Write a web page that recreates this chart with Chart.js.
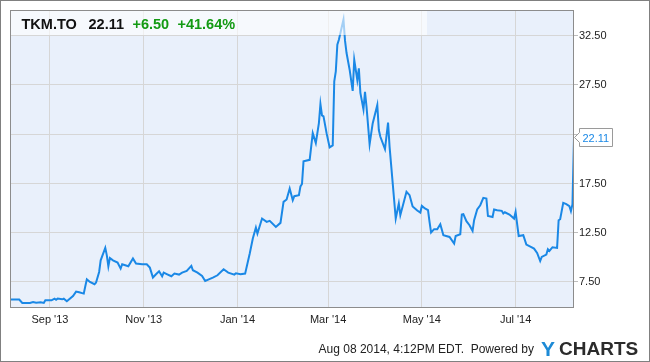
<!DOCTYPE html>
<html>
<head>
<meta charset="utf-8">
<script src="https://cdn.jsdelivr.net/npm/chart.js@4"></script>
<style>
  html, body { margin: 0; padding: 0; background: #ffffff; }
  canvas { display: block; }
</style>
</head>
<body>
<canvas id="c" width="650" height="362"></canvas>
<script>
// ---- data ----
const dates = [
  '2013-08-06','2013-08-12','2013-08-14','2013-08-19','2013-08-21','2013-08-23','2013-08-26','2013-08-28','2013-08-29',
  '2013-09-02','2013-09-04','2013-09-05','2013-09-06','2013-09-09','2013-09-10','2013-09-12','2013-09-16','2013-09-18',
  '2013-09-20','2013-09-23','2013-09-24','2013-09-25','2013-09-27','2013-09-30',
  '2013-10-01','2013-10-03','2013-10-04','2013-10-07','2013-10-08','2013-10-09','2013-10-10','2013-10-12','2013-10-15',
  '2013-10-17','2013-10-18','2013-10-20','2013-10-22','2013-10-25','2013-10-27','2013-10-31',
  '2013-11-03','2013-11-05','2013-11-07','2013-11-09','2013-11-11','2013-11-13','2013-11-14','2013-11-16','2013-11-19',
  '2013-11-21','2013-11-24','2013-11-26','2013-11-29',
  '2013-12-02','2013-12-03','2013-12-06','2013-12-09','2013-12-11','2013-12-13','2013-12-16','2013-12-19','2013-12-23',
  '2013-12-26','2013-12-30','2013-12-31',
  '2014-01-03','2014-01-06','2014-01-09','2014-01-11','2014-01-13','2014-01-14','2014-01-17','2014-01-20','2014-01-22',
  '2014-01-26','2014-01-29','2014-01-31',
  '2014-02-02','2014-02-04','2014-02-06','2014-02-07','2014-02-10','2014-02-11','2014-02-12','2014-02-13','2014-02-17',
  '2014-02-19','2014-02-21','2014-02-23','2014-02-24','2014-02-25','2014-02-26','2014-02-28',
  '2014-03-02','2014-03-04','2014-03-05','2014-03-06','2014-03-07','2014-03-08','2014-03-09','2014-03-11','2014-03-12',
  '2014-03-13','2014-03-15','2014-03-17','2014-03-18','2014-03-20','2014-03-21','2014-03-22','2014-03-24','2014-03-25',
  '2014-03-26','2014-03-28','2014-03-30',
  '2014-04-02','2014-04-03','2014-04-04','2014-04-07','2014-04-09','2014-04-10','2014-04-14','2014-04-16','2014-04-17',
  '2014-04-21','2014-04-23','2014-04-25','2014-04-28','2014-04-30',
  '2014-05-01','2014-05-03','2014-05-05','2014-05-06','2014-05-07','2014-05-09','2014-05-11','2014-05-13','2014-05-15',
  '2014-05-19','2014-05-22','2014-05-23','2014-05-26','2014-05-27','2014-05-28','2014-05-30',
  '2014-06-01','2014-06-03','2014-06-04','2014-06-06','2014-06-08','2014-06-10','2014-06-12','2014-06-13','2014-06-16',
  '2014-06-17','2014-06-19','2014-06-22','2014-06-23','2014-06-24','2014-06-27','2014-06-30',
  '2014-07-01','2014-07-03','2014-07-06','2014-07-08','2014-07-10','2014-07-13','2014-07-15','2014-07-17','2014-07-18',
  '2014-07-21','2014-07-22','2014-07-23','2014-07-25','2014-07-28','2014-07-29','2014-07-30',
  '2014-08-01','2014-08-03','2014-08-05','2014-08-06','2014-08-07','2014-08-08'
];
const prices = [
  5.71,5.71,5.37,5.37,5.47,5.40,5.44,5.37,5.64,
  5.64,5.81,5.70,5.81,5.74,5.81,5.54,6.08,6.52,
  6.45,6.32,7.06,7.77,7.50,7.27,
  7.44,8.52,9.70,10.96,10.20,9.10,9.94,9.70,9.47,
  8.86,9.30,9.20,9.10,9.88,9.37,9.30,
  9.30,8.96,7.95,8.28,8.59,8.08,8.45,8.30,8.08,
  8.35,8.25,8.45,8.62,
  9.13,8.69,8.45,8.11,7.60,7.74,7.95,8.18,8.79,
  8.45,8.25,8.38,
  8.28,8.35,10.39,11.91,13.03,12.42,13.94,13.60,13.70,
  13.09,13.50,15.63,
  15.87,16.99,15.80,16.21,16.31,17.20,17.45,19.74,19.90,
  22.61,21.60,23.63,25.56,24.41,24.31,22.61,
  21.16,21.36,27.87,28.88,31.59,32.09,32.77,34.15,32.00,
  30.74,29.05,26.90,30.05,28.00,29.19,26.70,25.02,26.81,
  25.28,21.49,23.60,
  25.46,22.92,22.24,21.00,23.68,21.22,13.94,15.47,14.28,
  16.65,16.31,15.17,14.75,14.55,
  15.22,14.96,14.79,13.60,12.52,12.86,12.86,13.36,12.25,
  12.07,11.40,12.17,12.35,14.35,14.38,13.67,
  13.26,12.68,13.77,14.86,15.29,16.04,15.97,14.20,14.10,
  14.86,14.79,14.72,14.45,14.58,14.35,13.94,
  14.61,12.17,12.25,11.30,11.13,10.89,10.45,9.63,10.04,
  10.28,10.82,10.65,11.03,10.96,13.77,13.87,
  15.53,15.40,15.19,14.69,15.40,22.11
];
const xRange = ['2013-08-06', '2014-08-08'];
const yRange = [4.96, 35.11];
const xTickDates = ['2013-09-01','2013-11-01','2014-01-01','2014-03-01','2014-05-01','2014-07-01'];
const xTickLabels = ["Sep '13","Nov '13","Jan '14","Mar '14","May '14","Jul '14"];
const yTicks = [7.5, 12.5, 17.5, 22.5, 27.5, 32.5];
const ticker = 'TKM.TO';
const lastPrice = '22.11';
const change = '+6.50';
const changePct = '+41.64%';
const footer = 'Aug 08 2014, 4:12PM EDT.  Powered by';

// ---- helpers ----
function dayNum(s) {
  const p = s.split('-').map(Number);
  return Date.UTC(p[0], p[1] - 1, p[2]) / 86400000;
}
const points = dates.map((d, i) => ({ x: dayNum(d), y: prices[i] }));
const xTickVals = xTickDates.map(dayNum);

const FONT = '"Liberation Sans", Arial, sans-serif';
const LINE = '#1a88e6';

const decor = {
  id: 'decor',
  beforeDraw(chart) {
    const { ctx, chartArea: a } = chart;
    ctx.save();
    ctx.fillStyle = '#ffffff';
    ctx.fillRect(0, 0, chart.width, chart.height);
    ctx.fillStyle = '#e9f0fb';
    ctx.fillRect(a.left, a.top, a.right - a.left, a.bottom - a.top);
    ctx.restore();
  },
  afterDatasetsDraw(chart) {
    const { ctx, chartArea: a } = chart;
    ctx.save();
    // translucent header band
    ctx.fillStyle = 'rgba(255,255,255,0.6)';
    ctx.fillRect(a.left, a.top, 417, 25);
    // header text
    ctx.font = 'bold 14.5px ' + FONT;
    ctx.textBaseline = 'alphabetic';
    ctx.textAlign = 'left';
    ctx.fillStyle = '#111111';
    ctx.fillText(ticker, 21.5, 29);
    ctx.fillText(lastPrice, 88.5, 29);
    ctx.fillStyle = '#139a13';
    ctx.fillText(change, 132.5, 29);
    ctx.fillText(changePct, 177.5, 29);
    ctx.restore();
  },
  afterDraw(chart) {
    const { ctx, chartArea: a } = chart;
    const xs = chart.scales.x, ys = chart.scales.y;
    ctx.save();
    // plot border
    ctx.strokeStyle = '#8c8c8c';
    ctx.lineWidth = 1;
    ctx.strokeRect(a.left + 0.5, a.top + 0.5, a.right - a.left - 1, a.bottom - a.top);
    // last value tag
    const last = points[points.length - 1];
    const ty = Math.round(ys.getPixelForValue(last.y)) - 0.5;
    const tx = Math.round(xs.getPixelForValue(last.x)) + 0.5;
    const bx = tx + 5, bw = 33, bh = 18;
    ctx.beginPath();
    ctx.moveTo(tx, ty);
    ctx.lineTo(bx, ty - 5);
    ctx.lineTo(bx, ty - bh / 2);
    ctx.lineTo(bx + bw, ty - bh / 2);
    ctx.lineTo(bx + bw, ty + bh / 2);
    ctx.lineTo(bx, ty + bh / 2);
    ctx.lineTo(bx, ty + 5);
    ctx.closePath();
    ctx.fillStyle = '#ffffff';
    ctx.fill();
    ctx.strokeStyle = '#9a9a9a';
    ctx.stroke();
    ctx.fillStyle = LINE;
    ctx.font = '11px ' + FONT;
    ctx.textBaseline = 'middle';
    ctx.textAlign = 'left';
    ctx.fillText(lastPrice, bx + 3, ty + 1);
    // footer
    ctx.fillStyle = '#222222';
    ctx.font = '12px ' + FONT;
    ctx.textAlign = 'right';
    ctx.textBaseline = 'alphabetic';
    ctx.fillText(footer, 534, 353);
    ctx.textAlign = 'left';
    ctx.font = 'bold 21px ' + FONT;
    ctx.fillStyle = '#1d8ad6';
    ctx.fillText('Y', 541, 356);
    ctx.font = 'bold 19px ' + FONT;
    ctx.fillStyle = '#2b2b2b';
    ctx.fillText('CHARTS', 559, 355);
    // outer border
    ctx.strokeStyle = '#808080';
    ctx.lineWidth = 1;
    ctx.strokeRect(0.5, 0.5, chart.width - 1, chart.height - 1);
    ctx.restore();
  }
};

new Chart(document.getElementById('c'), {
  type: 'line',
  data: {
    datasets: [{
      data: points,
      borderColor: LINE,
      borderWidth: 2,
      pointRadius: 0,
      tension: 0,
      fill: false
    }]
  },
  options: {
    responsive: false,
    animation: false,
    devicePixelRatio: 1,
    layout: { padding: { left: 10, top: 10, right: 0, bottom: 0 } },
    plugins: { legend: { display: false }, tooltip: { enabled: false } },
    scales: {
      x: {
        type: 'linear',
        min: dayNum(xRange[0]),
        max: dayNum(xRange[1]),
        afterBuildTicks(s) { s.ticks = xTickVals.map(v => ({ value: v })); },
        afterFit(s) { s.height = 55; },
        grid: { color: '#d6d6d6', drawTicks: false, lineWidth: 1 },
        border: { display: false },
        ticks: {
          autoSkip: false,
          maxRotation: 0,
          padding: 6,
          color: '#222222',
          font: { family: FONT, size: 11 },
          callback(v) {
            const i = xTickVals.indexOf(v);
            return i >= 0 ? xTickLabels[i] : '';
          }
        }
      },
      y: {
        position: 'right',
        min: yRange[0],
        max: yRange[1],
        afterBuildTicks(s) { s.ticks = yTicks.map(v => ({ value: v })); },
        afterFit(s) { s.width = 76; },
        grid: { color: '#d6d6d6', tickColor: '#bdbdbd', tickLength: 4, lineWidth: 1 },
        border: { display: false },
        ticks: {
          padding: 1,
          color: '#222222',
          font: { family: FONT, size: 11 },
          callback(v) { return Number(v).toFixed(2); }
        }
      }
    }
  },
  plugins: [decor]
});
</script>
</body>
</html>
